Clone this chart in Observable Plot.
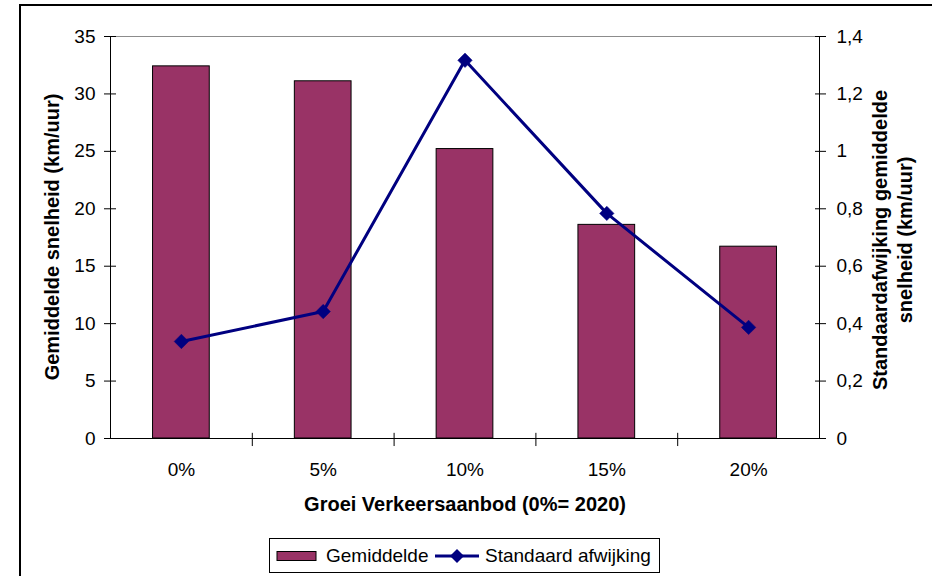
<!DOCTYPE html>
<html>
<head>
<meta charset="utf-8">
<script src="https://cdn.jsdelivr.net/npm/d3@7"></script>
<script src="https://cdn.jsdelivr.net/npm/@observablehq/plot@0.6"></script>
<style>
  html, body { margin: 0; padding: 0; background: #fff; overflow: hidden; }
  #wrap { position: relative; width: 932px; height: 576px; overflow: hidden; font-family: "Liberation Sans", Arial, sans-serif; color: #000; }
  #chart { position: absolute; left: 0; top: 0; }
  .frame { position: absolute; left: 19px; top: 4px; width: 1000px; height: 1000px; border: 2px solid #000; box-sizing: border-box; }
  .title { position: absolute; font-weight: bold; font-size: 20px; white-space: nowrap; text-align: center; line-height: 25px; }
  .rot { transform: translate(-50%, -50%) rotate(-90deg); }
  .htitle { transform: translate(-50%, -50%); }
  .legend { position: absolute; left: 269px; top: 538px; width: 391px; height: 35px; border: 1px solid #000; box-sizing: border-box; background: #fff; font-size: 19px; }
  .legend .item { position: absolute; top: 0; height: 33px; display: flex; align-items: center; }
  .legend svg { display: block; }
</style>
</head>
<body>
<div id="wrap">
  <div class="frame"></div>
  <div id="chart"></div>
</div>
<script>
const categories = ["0%", "5%", "10%", "15%", "20%"];
const gemiddelde = [32.4, 31.1, 25.2, 18.6, 16.7];
const standaardAfwijking = [0.338, 0.442, 1.317, 0.784, 0.387];
const leftTicks = [0, 5, 10, 15, 20, 25, 30, 35];
const rightTicks = [0, 0.2, 0.4, 0.6, 0.8, 1, 1.2, 1.4];
const seriesNames = ["Gemiddelde", "Standaard afwijking"];
const xTitle = "Groei Verkeersaanbod (0%= 2020)";
const yTitle = "Gemiddelde snelheid (km/uur)";
const y2Title = ["Standaardafwijking gemiddelde", "snelheid (km/uur)"];

const barColor = "#993366";
const lineColor = "#000080";
const yMax = leftTicks[leftTicks.length - 1];
const y2Max = rightTicks[rightTicks.length - 1];
const ratio = yMax / y2Max;

const data = categories.map((c, i) => ({ i, cat: c, mean: gemiddelde[i], sd: standaardAfwijking[i] }));
const fmtComma = v => String(+v.toFixed(2)).replace(".", ",");

const plot = Plot.plot({
  width: 932,
  height: 576,
  marginLeft: 110,
  marginRight: 113,
  marginTop: 36,
  marginBottom: 138,
  x: { type: "linear", domain: [-0.5, categories.length - 0.5], axis: null },
  y: { domain: [0, yMax], axis: null },
  style: { fontFamily: "'Liberation Sans', Arial, sans-serif", fontSize: "19px", color: "#000", background: "transparent", overflow: "visible" },
  marks: [
    Plot.ruleY([yMax], { stroke: "#8c8c8c", strokeWidth: 1 }),
    Plot.rectY(data, { x1: d => d.i - 0.2, x2: d => d.i + 0.2, y1: 0, y2: "mean", fill: barColor, stroke: "#000", strokeWidth: 1 }),
    Plot.ruleY([0], { stroke: "#000" }),
    Plot.ruleX([-0.5, categories.length - 0.5], { stroke: "#000" }),
    Plot.ruleX(d3.range(0.5, categories.length - 0.5, 1), { y1: -0.7, y2: 0.45, stroke: "#000" }),
    Plot.axisY({ anchor: "left", ticks: leftTicks, tickSize: 12, dx: 6, tickPadding: 9, label: null }),
    Plot.axisY({ anchor: "right", ticks: rightTicks.map(v => v * ratio), tickFormat: d => fmtComma(d / ratio), tickSize: 11, dx: -5, tickPadding: 11, label: null }),
    Plot.axisX({ ticks: d3.range(categories.length), tickFormat: i => categories[i], tickSize: 0, tickPadding: 24, label: null }),
    Plot.line(data, { x: "i", y: d => d.sd * ratio, stroke: lineColor, strokeWidth: 3 }),
    Plot.dot(data, { x: "i", y: d => d.sd * ratio, symbol: "diamond2", r: 6.5, fill: lineColor, stroke: lineColor, strokeWidth: 0.5 })
  ]
});
document.getElementById("chart").appendChild(plot);

const wrap = document.getElementById("wrap");
function addTitle(html, cx, cy, cls) {
  const d = document.createElement("div");
  d.className = "title " + cls;
  d.style.left = cx + "px";
  d.style.top = cy + "px";
  d.innerHTML = html;
  wrap.appendChild(d);
}
addTitle(yTitle, 52, 237, "rot");
addTitle(y2Title.join("<br>"), 893, 240, "rot");
addTitle(xTitle, 465, 504, "htitle");

const legend = document.createElement("div");
legend.className = "legend";
legend.innerHTML = `
  <div class="item" style="left:6px">
    <svg width="42" height="12"><rect x="1" y="1.5" width="39" height="9" fill="${barColor}" stroke="#000" stroke-width="1"/></svg>
    <span style="margin-left:8px">${seriesNames[0]}</span>
  </div>
  <div class="item" style="left:164px">
    <svg width="46" height="16"><line x1="1" y1="8" x2="45" y2="8" stroke="${lineColor}" stroke-width="3"/><path d="M23,1 L30,8 L23,15 L16,8 Z" fill="${lineColor}"/></svg>
    <span style="margin-left:5px">${seriesNames[1]}</span>
  </div>`;
wrap.appendChild(legend);
</script>
</body>
</html>
